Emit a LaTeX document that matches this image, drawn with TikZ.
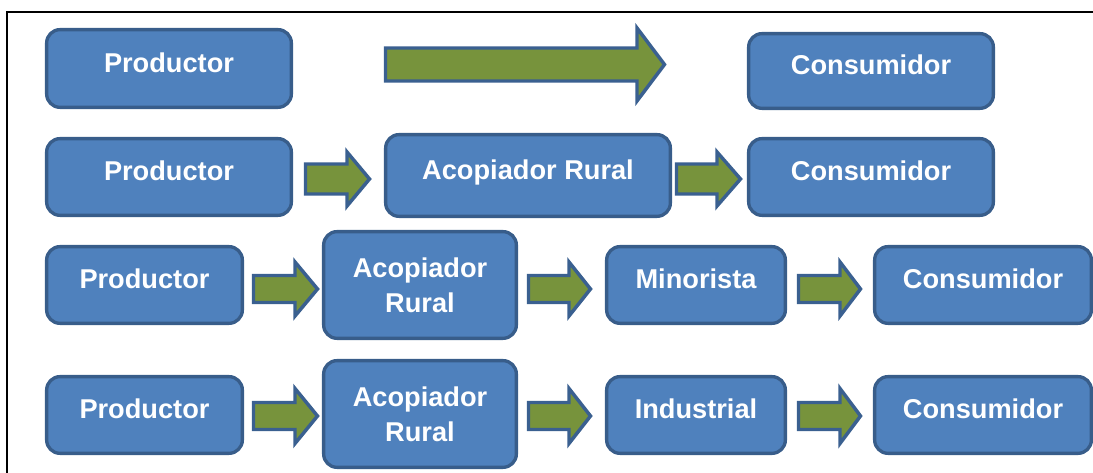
\documentclass[tikz,border=0pt]{standalone}
\usepackage{fontspec}
\setsansfont{Liberation Sans}
\definecolor{boxfill}{HTML}{4F81BD}
\definecolor{boxline}{HTML}{385D8A}
\definecolor{arrfill}{HTML}{77933C}
\definecolor{arrline}{HTML}{3A6090}
\tikzset{
  stagebox/.style={draw=boxline, fill=boxfill, line width=2.5pt, rounded corners=10pt,
    text=white, font=\sffamily\bfseries\fontsize{20.4}{26}\selectfont, inner sep=0pt},
  oneline/.style={text height=14pt, text depth=8.4pt},
  twoline/.style={align=center},
  blockarrow/.style={draw=arrline, fill=arrfill, line width=2.6pt, line join=miter},
  frameline/.style={draw=black, line width=1.5pt}
}
% #1 name, #2 x1, #3 y1, #4 x2, #5 y2, #6 style, #7 text
\newcommand\stagenode[7]{%
  \node[stagebox, #6, minimum width={(#4-#2-3.3)*0.75pt}, minimum height={(#5-#3-3.3)*0.75pt}]
    (#1) at ({(#2+#4)/2},{(#3+#5)/2}) {#7};}
% #1 name, #2 x start, #3 head start, #4 tip, #5 y centre, #6 shaft half, #7 head half
\newcommand\flowarrow[7]{%
  \draw[blockarrow] ({#2+1.5},{#5-#6}) -- ({#3},{#5-#6}) -- ({#3},{#5-#7}) -- ({#4-2.5},{#5})
    -- ({#3},{#5+#7}) -- ({#3},{#5+#6}) -- ({#2+1.5},{#5+#6}) -- cycle;
  \coordinate (#1) at ({(#2+#4)/2},{#5});}
\begin{document}
\begin{tikzpicture}[x=0.75pt, y=-0.75pt]
\useasboundingbox (0,0) rectangle (1093,473);
\path (6.5,12) coordinate (fl) (1093,12) coordinate (fr) (6.5,473) coordinate (fb);
\draw[frameline] (fb) -- (fl) -- (fr);
% Row 1
\stagenode{p1}{45}{28}{293}{109}{oneline}{Productor}
\flowarrow{a1}{384}{637}{667}{64.5}{16.5}{36.5}
\stagenode{c1}{747}{32}{995}{110}{oneline}{Consumidor}
% Row 2
\stagenode{p2}{45}{137}{293}{217}{oneline}{Productor}
\flowarrow{a21}{304}{347}{372}{179}{15}{27}
\stagenode{r2}{384}{133}{672}{218}{oneline}{Acopiador Rural}
\flowarrow{a22}{675}{717}{743}{179}{15}{27}
\stagenode{c2}{747}{137}{995}{217}{oneline}{Consumidor}
% Row 3
\stagenode{p3}{45}{245}{244}{325}{oneline}{Productor}
\flowarrow{a31}{252}{295}{320}{289}{13.5}{27}
\stagenode{r3}{322}{230}{518}{340}{twoline}{Acopiador\\Rural}
\flowarrow{a32}{527}{569}{593}{289}{13.5}{27}
\stagenode{m3}{605}{245}{787}{325}{oneline}{Minorista}
\flowarrow{a33}{797}{840}{863}{289}{13.5}{27}
\stagenode{c3}{873}{245}{1093}{325}{oneline}{Consumidor}
% Row 4
\stagenode{p4}{45}{375}{244}{455}{oneline}{Productor}
\flowarrow{a41}{252}{295}{320}{416}{13.5}{27.5}
\stagenode{r4}{322}{359}{518}{469}{twoline}{Acopiador\\Rural}
\flowarrow{a42}{527}{569}{593}{416}{13.5}{27.5}
\stagenode{i4}{605}{375}{787}{455}{oneline}{Industrial}
\flowarrow{a43}{797}{840}{863}{416}{13.5}{27.5}
\stagenode{c4}{873}{375}{1093}{455}{oneline}{Consumidor}
\end{tikzpicture}
\end{document}
